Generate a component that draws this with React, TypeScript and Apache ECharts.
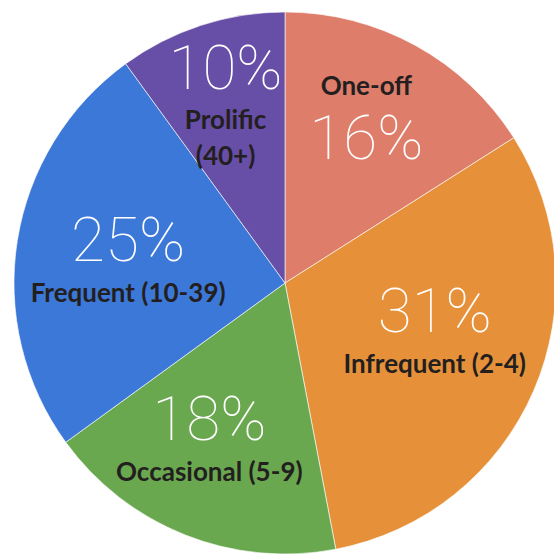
import React, { useEffect, useRef } from "react";
import * as echarts from "echarts";

const categories = ["One-off", "Infrequent (2-4)", "Occasional (5-9)", "Frequent (10-39)", "Prolific (40+)"];
const values = [16, 31, 18, 25, 10];
const colors = ["#DE7D6A", "#E6913A", "#6AA84F", "#3C78D8", "#674EA7"];
const nameFirst = [true, false, false, false, false];
const nameLines = [["One-off"], ["Infrequent (2-4)"], ["Occasional (5-9)"], ["Frequent (10-39)"], ["Prolific", "(40+)"]];
// label nudges as padding [top, right, bottom, left]
const labelPadding = [
  [0, 4, 24, 0],
  [0, 18, 46, 0],
  [0, 24, 14, 0],
  [4, 0, 0, 28],
  [0, 12, 30, 0],
];

export default function App() {
  const ref = useRef<HTMLDivElement>(null);
  useEffect(() => {
    if (!ref.current) return;
    const chart = echarts.init(ref.current, undefined, { renderer: "svg" });
    const rich = {
      pct: { fontFamily: "Roboto", fontWeight: 100, fontSize: 62, color: "#ffffff", lineHeight: 68 },
      nm: { fontFamily: "Lato", fontWeight: "bold", fontSize: 26, color: "#231F20", lineHeight: 36 },
    };
    const pieData = categories.map((c, i) => ({ name: c, value: values[i], itemStyle: { color: colors[i] } }));
    const labelData = categories.map((c, i) => {
      const nm = nameLines[i].map((l) => `{nm|${l}}`).join("\n");
      const pct = `{pct|${values[i]}%}`;
      return {
        name: c,
        value: values[i],
        label: { formatter: nameFirst[i] ? `${nm}\n${pct}` : `${pct}\n${nm}`, padding: labelPadding[i] },
      };
    });
    chart.setOption({
      animation: false,
      series: [
        {
          type: "pie",
          center: [285, 283],
          radius: 271,
          startAngle: 90,
          clockwise: true,
          silent: true,
          label: { show: false },
          labelLine: { show: false },
          itemStyle: { borderColor: "rgba(255,255,255,0.6)", borderWidth: 1 },
          data: pieData,
        },
        {
          type: "pie",
          center: [285, 283],
          radius: [0, 340],
          startAngle: 90,
          clockwise: true,
          silent: true,
          itemStyle: { color: "rgba(0,0,0,0)" },
          label: { show: true, position: "inside", rich },
          labelLine: { show: false },
          data: labelData,
        },
      ],
    });
    return () => chart.dispose();
  }, []);
  return <div ref={ref} style={{ position: "fixed", left: 0, top: 0, width: 554, height: 554, background: "#fff" }} />;
}
